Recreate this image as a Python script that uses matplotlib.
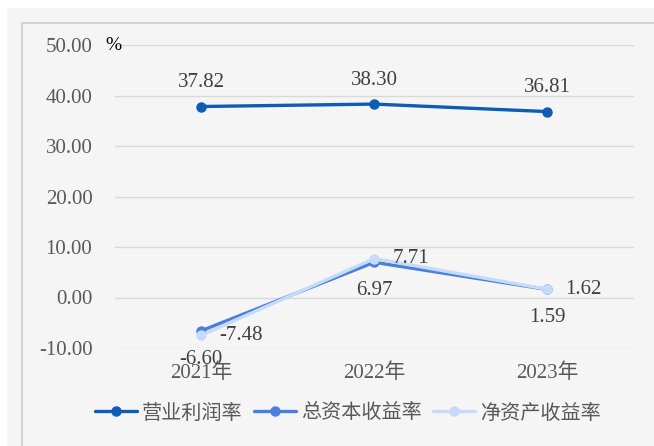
import matplotlib
matplotlib.use("Agg")
import matplotlib.pyplot as plt
from matplotlib.patches import Rectangle

categories = ["2021年", "2022年", "2023年"]
series_names = ["营业利润率", "总资本收益率", "净资产收益率"]
op_margin = [37.82, 38.30, 36.81]
roa = [-6.60, 6.97, 1.59]
roe = [-7.48, 7.71, 1.62]
y_ticks = [-10, 0, 10, 20, 30, 40, 50]

colors = ["#0d5cb6", "#4a7fdc", "#c6dbf7"]
NUM_FONT = ["Liberation Serif", "Noto Sans CJK SC"]
CJK_FONT = ["Noto Sans CJK SC", "DejaVu Sans"]

fig = plt.figure(figsize=(6.54, 4.46), dpi=100, facecolor="white")
W, H = 654, 446
# gray background band and inner border
fig.patches.append(Rectangle((7 / W, 0), 1, 1 - 8 / H, transform=fig.transFigure,
                             facecolor="#f5f5f5", edgecolor="none", zorder=-10))
fig.patches.append(Rectangle((22 / W, -0.1), 1.2, 1 - 23 / H + 0.1, transform=fig.transFigure,
                             facecolor="none", edgecolor="#d4d4d4", linewidth=1.5, zorder=-9))

ax = fig.add_axes([114.6 / W, 1 - 348 / H, (634 - 114.6) / W, (348 - 45) / H])
ax.set_facecolor("none")
x = list(range(len(categories)))

data = [op_margin, roa, roe]
for vals, name, c in zip(data, series_names, colors):
    ax.plot(x, vals, color=c, lw=2.4, marker="o", markersize=6.5, label=name,
            solid_capstyle="round", zorder=3)

lab_kw = dict(fontsize=15, family=NUM_FONT, color="#404040", textcoords="offset points")
for xi, v in zip(x, op_margin):
    ax.annotate(f"{v:.2f}", (xi, v), xytext=(0, 17), ha="center", va="center", **lab_kw)
for xi, v in zip(x, roa):
    ax.annotate(f"{v:.2f}", (xi, v), xytext=(0, -20.5), ha="center", va="center", **lab_kw)
for xi, v in zip(x, roe):
    ax.annotate(f"{v:.2f}", (xi, v), xytext=(13, 0), ha="left", va="center", **lab_kw)

ax.set_xlim(-0.5, 2.5)
ax.set_ylim(-10, 50)
ax.set_yticks(y_ticks)
ax.set_yticklabels([f"{t:.2f}" for t in y_ticks], family=NUM_FONT, fontsize=15, color="#595959")
ax.set_xticks(x)
ax.set_xticklabels(categories, family=NUM_FONT, fontsize=15, color="#595959")
ax.tick_params(axis="y", length=0, pad=16)
ax.tick_params(axis="x", length=0, pad=11)
ax.grid(axis="y", color="#d9d9d9", lw=1)
ax.set_axisbelow(True)
for s in ax.spines.values():
    s.set_visible(False)

fig.text(105 / W, 1 - 45 / H, "%", family=NUM_FONT, fontsize=14, color="black",
         ha="left", va="center")

leg = fig.legend(loc="center", bbox_to_anchor=(348 / W, 1 - 413 / H), ncol=3, frameon=False,
                 prop={"family": CJK_FONT, "size": 14.5}, handlelength=2.1,
                 handletextpad=0.25, columnspacing=0.55, borderpad=0)
for t in leg.get_texts():
    t.set_color("#595959")

fig.savefig("out.png", dpi=100, facecolor=fig.get_facecolor())
